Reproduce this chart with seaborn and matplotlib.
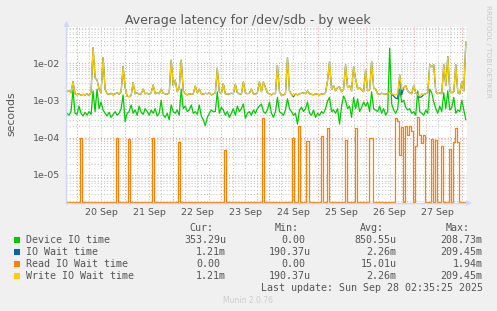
import numpy as np
import pandas as pd
import matplotlib
matplotlib.use("Agg")
import matplotlib.pyplot as plt
import matplotlib.dates as mdates
from matplotlib.ticker import LogLocator, FuncFormatter, NullFormatter
from matplotlib.patches import Rectangle, Polygon
import seaborn as sns

# ---------------- data (hourly samples, microseconds) ----------------
start_time = "2025-09-19 19:00"
n_points = 200

write_us = [1700,1800,1600,3200,1500,1400,1500,1350,1450,1400,
            1500,1350,1600,26000,4000,3500,2000,1600,14000,2000,
            1500,1450,1550,1400,1500,1600,1450,1700,8000,2200,
            1300,1250,1350,3000,1500,1600,1450,1500,2000,1500,
            1550,1450,1600,2600,1500,1600,1500,2000,1550,1500,
            1450,1600,12000,2500,3500,1700,2200,12000,1800,1500,
            1400,1500,1450,1500,2400,1600,2000,1500,1450,1550,
            1500,1600,1400,1500,1600,7200,1700,1500,2800,1500,
            1450,1500,1550,1500,2700,1600,1500,1450,3100,1600,
            1500,1550,2000,1500,1450,1600,3100,1700,3100,2200,
            1600,1500,1400,1550,1500,8500,1700,1350,1400,1500,
            14000,1800,1450,1350,1500,1400,1500,1550,1600,1500,
            1800,1500,1450,1400,1500,1450,1400,1500,1450,1600,
            3400,11000,2000,2500,1800,2200,2300,1700,2000,9000,
            2200,2500,1800,8000,3800,2000,2200,1900,1700,6500,
            1800,1900,11000,2200,2000,1500,1450,1550,1500,1450,
            1500,1700,1500,1450,1400,1500,4800,2000,2200,2500,
            1800,1600,1500,2500,1600,1400,1300,1500,1450,1500,
            1600,9000,8000,9000,1700,1500,1600,1500,9000,2500,
            15000,1800,1600,1700,9000,1600,1500,3200,1800,37000]

device_us = [450,400,500,1900,450,420,700,450,380,480,
             400,500,420,1800,500,2000,600,900,550,450,
             380,480,350,420,500,400,450,600,1400,270,
             450,500,750,450,550,400,700,480,420,600,
             500,400,550,450,600,380,450,1000,400,350,
             450,300,750,500,450,550,400,2000,600,700,
             500,550,750,450,500,420,750,380,300,210,
             350,450,550,500,500,1700,450,650,550,400,
             500,350,450,600,400,700,500,600,800,330,
             450,500,400,550,450,600,700,800,500,450,
             550,900,450,350,500,1200,500,450,400,550,
             1100,600,500,400,450,230,550,650,500,600,
             900,450,400,550,350,450,400,500,450,600,
             950,1200,500,550,450,600,230,700,1300,1000,
             600,700,350,1200,600,1100,500,650,900,700,
             900,500,1700,600,550,500,700,450,600,400,
             500,25000,800,550,450,600,2000,900,1000,650,
             550,600,450,500,400,1800,500,450,400,550,
             450,2000,1600,900,600,450,700,500,1600,600,
             1800,550,650,1200,450,550,500,1000,550,300]

# read wait: zero except at these samples
read_idx = [7,25,31,43,56,79,98,113,116,120,
            127,130,139,144,151,152,164,165,166,167,
            169,170,171,172,174,175,176,177,178,182,
            184,187,191,193,194,195]
read_us = [100,100,90,100,75,47,330,100,210,80,
           110,180,85,180,100,95,340,280,35,190,
           210,120,200,150,60,360,120,70,120,90,
           85,60,50,75,180,75]

# IO wait equals write wait except where reads pulled it down
io_diff_idx = [113,163,164,165,167,176,177]
io_diff_us = [1250,1300,1150,1100,1400,1200,1250]

series_names = ["Device IO time", "IO Wait time", "Read IO Wait time", "Write IO Wait time"]
series_colors = ["#00CC00", "#0066B3", "#FF8000", "#FFCC00"]
cur_vals = ["353.29u", "1.21m", "0.00", "1.21m"]
min_vals = ["0.00", "190.37u", "0.00", "190.37u"]
avg_vals = ["850.55u", "2.26m", "15.01u", "2.26m"]
max_vals = ["208.73m", "209.45m", "1.94m", "209.45m"]

title = "Average latency for /dev/sdb - by week"
ylabel = "seconds"
last_update = "Last update: Sun Sep 28 02:35:25 2025"
version = "Munin 2.0.76"
credit = "RRDTOOL / TOBI OETIKER"

# ---------------- build table ----------------
times = pd.date_range(start_time, periods=n_points, freq="h")
read_full = np.zeros(n_points)
read_full[read_idx] = read_us
io_full = np.array(write_us, dtype=float)
io_full[io_diff_idx] = io_diff_us
df = pd.DataFrame({
    "time": times,
    "device": np.array(device_us) * 1e-6,
    "io": io_full * 1e-6,
    "read": read_full * 1e-6,
    "write": np.array(write_us) * 1e-6,
})

YMIN, YMAX = 1.76e-6, 0.093
df["read_plot"] = np.maximum(df["read"], YMIN * 1.04)

# ---------------- figure ----------------
sns.set_style("white")
plt.rcParams["font.family"] = ["DejaVu Sans"]
W, H = 497, 311
fig = plt.figure(figsize=(W / 100, H / 100), dpi=100, facecolor="#F0F0F0")
ax = fig.add_axes([66 / W, (H - 203) / H, 401 / W, 176 / H])
ax.set_facecolor("white")

lw = 0.9
cols = ["device", "io", "read_plot", "write"]
for col, color in zip(cols, series_colors):
    kw = dict(drawstyle="steps-mid") if col == "read_plot" else {}
    sns.lineplot(data=df, x="time", y=col, color=color, lw=lw, ax=ax,
                 estimator=None, legend=False, **kw)

ax.set_yscale("log")
ax.set_ylim(YMIN, YMAX)
ax.set_xlim(pd.Timestamp("2025-09-19 18:30"), pd.Timestamp("2025-09-28 02:35"))
ax.set_xlabel("")
ax.set_ylabel("")

# ticks / grid
ax.xaxis.set_major_locator(mdates.DayLocator())
ax.xaxis.set_minor_locator(mdates.HourLocator(byhour=[6, 12, 18]))
ax.xaxis.set_major_formatter(NullFormatter())

def day_label(x, pos):
    d = mdates.num2date(x)
    return d.strftime("%d %b") if d.hour == 12 else ""

ax.xaxis.set_minor_formatter(FuncFormatter(day_label))
ax.yaxis.set_major_locator(LogLocator(base=10))
ax.yaxis.set_minor_locator(LogLocator(base=10, subs=np.arange(2, 10)))
ax.yaxis.set_major_formatter(FuncFormatter(lambda v, p: f"{v:.0e}"))
ax.yaxis.set_minor_formatter(NullFormatter())

ax.set_axisbelow(True)
ax.grid(which="major", color="#E8A0A0", ls=(0, (1, 2)), lw=0.75)
ax.grid(which="minor", color="#C8C8C8", ls=(0, (1, 2)), lw=0.75)
ax.tick_params(axis="both", which="both", length=0, colors="#555555", labelsize=6.8)
ax.tick_params(axis="x", which="minor", pad=3.5)
ax.tick_params(axis="y", which="major", pad=4)
ax.tick_params(axis="x", which="major", length=2, color="#E8A0A0", direction="out")

for s in ["top", "right"]:
    ax.spines[s].set_visible(False)
for s in ["left", "bottom"]:
    ax.spines[s].set_color("#CFD6F8")
    ax.spines[s].set_linewidth(1.0)

def px(x, y):
    return (x / W, 1 - y / H)

# axis arrows
fig.add_artist(Polygon([px(63.5, 27), px(69.5, 27), px(66.5, 21)], closed=True,
                       transform=fig.transFigure, color="#CFD6F8", lw=0))
fig.add_artist(Polygon([px(466, 200), px(466, 206), px(472, 203)], closed=True,
                       transform=fig.transFigure, color="#CFD6F8", lw=0))

# texts
fig.text(*px(248, 24), title, ha="center", va="baseline", fontsize=9.0, color="#555555")
fig.text(*px(11.5, 114), ylabel, ha="center", va="center", rotation=90, fontsize=7.8, color="#555555")
fig.text(*px(488, 5), credit, ha="center", va="top", rotation=270, fontsize=5.2, color="#C8C8C8")

mono = "DejaVu Sans Mono"
fs = 7.2
cw = 6.02
col_right = [226, 311, 396.7, 482.7]
head_right = [213, 299, 384, 470]
for head, xr in zip(["Cur:", "Min:", "Avg:", "Max:"], head_right):
    fig.text(*px(xr, 231.3), head, ha="right", va="baseline", fontsize=fs, family=mono, color="#555555")

for r, (name, color) in enumerate(zip(series_names, series_colors)):
    yb = 243.3 + 12 * r
    fig.add_artist(Rectangle(px(14, yb - 0.5), 6 / W, 6 / H, transform=fig.transFigure,
                             facecolor=color, edgecolor="none"))
    fig.text(*px(26, yb), name, ha="left", va="baseline", fontsize=fs, family=mono, color="#555555")
    for vals, xr in zip([cur_vals, min_vals, avg_vals, max_vals], col_right):
        v = vals[r]
        x = xr if v[-1].isalpha() else xr - cw
        fig.text(*px(x, yb), v, ha="right", va="baseline", fontsize=fs, family=mono, color="#555555")

fig.text(*px(482.7, 291.3), last_update, ha="right", va="baseline", fontsize=fs, family=mono, color="#555555")
fig.text(*px(248, 303.3), version, ha="center", va="baseline", fontsize=5.5, color="#CCCCCC")

fig.savefig("out.png", dpi=100, facecolor=fig.get_facecolor())
